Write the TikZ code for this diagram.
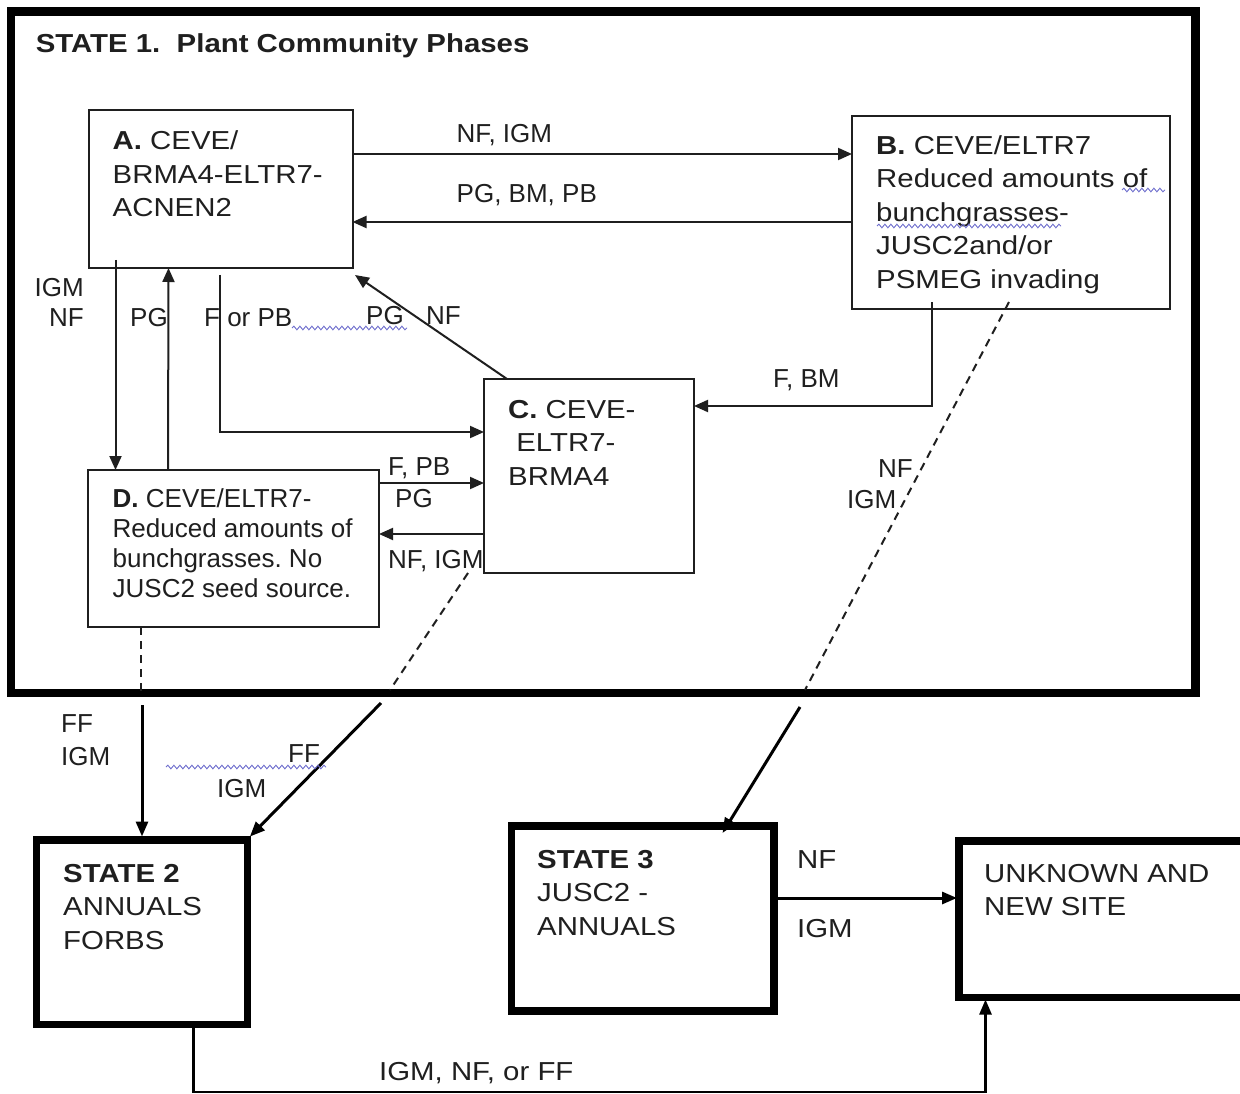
\documentclass[tikz,border=0pt]{standalone}
\usepackage{fontspec}
\setmainfont{Liberation Sans}
\newfontfamily\widefont[FakeStretch=1.13]{Liberation Sans}
\usetikzlibrary{arrows.meta,decorations.pathmorphing,calc}
\definecolor{ink}{gray}{0.12}
\definecolor{squig}{RGB}{110,110,205}
\frenchspacing
\begin{document}
\begin{tikzpicture}[x=1pt,y=-1pt,
  phase/.style={draw=ink, line width=2pt, inner sep=0pt, outer sep=0pt, anchor=north west},
  statebox/.style={draw=black, line width=7.5pt, inner sep=0pt, outer sep=0pt, anchor=north west},
  body/.style={font={\fontsize{26}{33.5}\selectfont}, text=ink, inner sep=0pt, align=left, anchor=base west},
  wbody/.style={body, font={\widefont\fontsize{26}{33.5}\selectfont}},
  dbody/.style={body, font={\fontsize{26}{30}\selectfont}},
  lbl/.style={font={\fontsize{26}{33.5}\selectfont}, text=ink, inner sep=0pt, anchor=base west},
  wlbl/.style={lbl, font={\widefont\fontsize{26}{33.5}\selectfont}},
  arr/.style={draw=ink, line width=2pt, -{Triangle[length=14pt,width=12pt]}},
  dashline/.style={draw=ink, line width=2pt, dash pattern=on 8pt off 6pt},
  bigarr/.style={draw=black, line width=3pt, -{Triangle[length=15pt,width=12pt]}},
  squiggle/.style={draw=squig, line width=0.9pt, decorate, decoration={snake, amplitude=1.8pt, segment length=6pt}}
]
\useasboundingbox (0,0) rectangle (1240,1094);
\fill[white] (0,0) rectangle (1240,1094);

% outer state 1 box
\node[draw=black, line width=8.5pt, inner sep=0pt, outer sep=0pt, anchor=north west,
      minimum width=1184.5pt, minimum height=681.5pt] (S1) at (11,11.5) {};
\node[wlbl, font={\widefont\fontsize{26}{33.5}\selectfont\bfseries}] (title) at (35.6,52.5) {STATE 1.\ \ Plant Community Phases};

% phase boxes
\node[phase, minimum width=264pt, minimum height=158pt] (A) at (88.5,110) {};
\node[phase, minimum width=318pt, minimum height=193pt] (B) at (852,116) {};
\node[phase, minimum width=210pt, minimum height=194pt] (C) at (484,379) {};
\node[phase, minimum width=291pt, minimum height=157pt] (D) at (88,470) {};

% (anchor base = baseline of the last line)
\node[wbody] (At) at (112.5,217) {\textbf{A.} CEVE/\\BRMA4-ELTR7-\\ACNEN2};
\node[wbody] (Bt) at (876,288) {\textbf{B.} CEVE/ELTR7\\Reduced amounts of\\bunchgrasses-\\JUSC2and/or\\PSMEG invading};
\node[wbody] (Ct) at (508,485) {\textbf{C.} CEVE-\\\ ELTR7-\\BRMA4};
\node[dbody] (Dt) at (112.5,597) {\textbf{D.} CEVE/ELTR7-\\Reduced amounts of\\bunchgrasses. No\\JUSC2 seed source.};

% state boxes
\node[statebox, minimum width=211pt, minimum height=184.5pt] (S2) at (36.5,840) {};
\node[statebox, minimum width=262.5pt, minimum height=185pt] (S3) at (511.5,826) {};
\node[statebox, minimum width=301pt, minimum height=156.5pt] (U) at (959,841) {};

\node[wbody] (S2t) at (63,949) {\textbf{STATE 2}\\ANNUALS\\FORBS};
\node[wbody] (S3t) at (537,935) {\textbf{STATE 3}\\JUSC2 -\\ANNUALS};
\node[wbody] (Ut) at (984,915.5) {UNKNOWN AND\\NEW SITE};

% A <-> B
\draw[arr] ($(A.north east)+(0,44)$) -- ($(B.north west)+(0,38)$);
\draw[arr] ($(B.north west)+(0,106)$) -- ($(A.north east)+(0,112)$);
\node[lbl] (l1) at (456.5,143) {NF, IGM};
\node[lbl] (l2) at (456.5,203) {PG, BM, PB};

% A <-> D
\draw[arr] ($(A.south west)+(27,-8)$) -- ($(D.north west)+(27.5,0)$);
\draw[arr] ($(D.north west)+(80,0)$) -- ($(A.south west)+(80,0)$);
\node[lbl, anchor=base east] (l3) at (84,297) {IGM};
\node[lbl, anchor=base east] (l4) at (84,326) {NF};
\node[lbl] (l5) at (130,326) {PG};

% A -> C
\draw[arr] ($(A.south west)+(131.5,7)$) |- ($(C.north west)+(0,53)$);
\node[lbl] (l6) at (204,326) {F or PB};

% C -> A
\draw[arr] ($(C.north west)+(23,0)$) -- ($(A.south east)+(2.5,7)$);
\node[lbl] (l7) at (366,324) {PG};
\node[lbl] (l8) at (426,324) {NF};

% B -> C
\draw[arr] ($(B.south west)+(80,-7)$) |- ($(C.north east)+(0,27)$);
\node[lbl] (l9) at (773,387) {F, BM};

% D <-> C
\draw[arr] ($(D.north east)+(0,13)$) -- ($(C.north west)+(0,104)$);
\draw[arr] ($(C.north west)+(0,155)$) -- ($(D.north east)+(0,64)$);
\node[lbl] (l10) at (388,475) {F, PB};
\node[lbl] (l11) at (395,507) {PG};
\node[lbl] (l12) at (388,568) {NF, IGM};

% dashed exits
\coordinate (dD) at ($(D.south west)+(53,0)$);
\draw[dashline] (dD) -- (dD |- S1.south);
\coordinate (dC) at ($(C.south west)+(-16,0)$);
\coordinate (dCe) at (390,690);
\draw[dashline] (dC) -- (dCe);
\coordinate (dB) at ($(B.south west)+(157,-7)$);
\coordinate (dBe) at (805,690);
\draw[dashline] (dB) -- (dBe);
\node[lbl] (l13) at (878,477) {NF};
\node[lbl] (l14) at (847,508) {IGM};

% to state 2
\coordinate (s2a) at (142,705);
\draw[bigarr, shorten >=3.5pt] (s2a) -- (s2a |- S2.north);
\node[lbl] (l15) at (61,732) {FF};
\node[lbl] (l16) at (61,765) {IGM};
\coordinate (s2b) at (381,703);
\draw[bigarr, shorten >=2pt] (s2b) -- ($(S2.north east)+(1,-2)$);
\node[lbl] (l17) at (288,762) {FF};
\node[lbl] (l18) at (217,797) {IGM};

% to state 3
\coordinate (s3a) at (800,707);
\draw[bigarr] (s3a) -- ($(S3.north west)+(211,7)$);

% state 3 -> unknown
\draw[bigarr, shorten >=2pt] ($(S3.north east)+(0,72)$) -- ($(U.north west)+(0,57)$);
\node[wlbl] (l19) at (797,868) {NF};
\node[wlbl] (l20) at (797,937) {IGM};

% state 2 -> unknown
\coordinate (ub) at ($(U.south west)+(26.5,0)$);
\draw[bigarr, line width=2.5pt, shorten >=2pt] ($(S2.south west)+(157,0)$) -- ++(0,67.5) -| (ub);
\node[wlbl] (l21) at (379,1080) {IGM, NF, or FF};

% spell-check squiggles
\draw[squiggle] (292,328) -- (407,328);
\draw[squiggle] (1122,190) -- (1165,190);
\draw[squiggle] (877,226) -- (1061,226);
\draw[squiggle] (166,767) -- (326,767);
\end{tikzpicture}
\end{document}
